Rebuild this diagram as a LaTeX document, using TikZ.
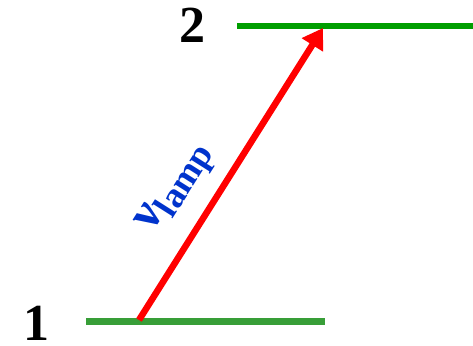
\documentclass[tikz,border=0pt]{standalone}
\usepackage{fontspec}
\setmainfont{Liberation Serif}
\usetikzlibrary{arrows.meta}
\begin{document}
\begin{tikzpicture}[x=1pt,y=-1pt,
  level/.style={line width=6.5pt},
  lab/.style={font=\fontsize{52}{52}\selectfont\bfseries, inner sep=0pt, anchor=base}]
\useasboundingbox (0,0) rectangle (473,345);
\coordinate (b1) at (86,321.5);
\coordinate (b2) at (325,321.5);
\coordinate (t1) at (237,26);
\coordinate (t2) at (473,26);
\draw[level, draw={rgb,255:red,56;green,158;blue,56}] (b1) -- (b2);
\draw[level, draw={rgb,255:red,0;green,158;blue,0}] (t1) -- (t2);
\coordinate (s) at (139,320);
\coordinate (e) at (323,28);
\draw[red, line width=6.5pt, -{Triangle[length=20pt,width=24pt]}] (s) -- (e);
\node[lab] (n1) at (36,340) {1};
\node[lab] (n2) at (192,43) {2};
\node[rotate=57.6, text={rgb,255:red,0;green,51;blue,204}, inner sep=0pt,
  font=\fontsize{50}{50}\selectfont\bfseries] (nu) at (177,189) {ν\raisebox{-10pt}{\fontsize{36}{36}\selectfont lamp}};
\end{tikzpicture}
\end{document}
